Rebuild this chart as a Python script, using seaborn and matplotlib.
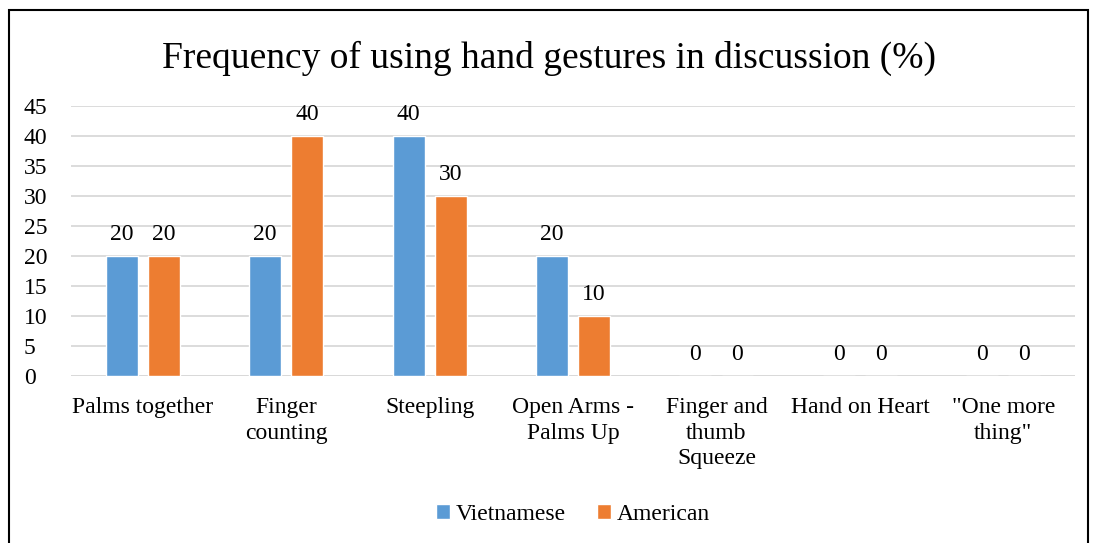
import matplotlib
matplotlib.use("Agg")
import matplotlib.pyplot as plt
import seaborn as sns
import pandas as pd
from matplotlib.patches import Rectangle

categories = ["Palms together", "Finger\ncounting", "Steepling", "Open Arms -\nPalms Up",
              "Finger and\nthumb\nSqueeze", "Hand on Heart", "\"One more\nthing\""]
vietnamese = [20, 20, 40, 20, 0, 0, 0]
american = [20, 40, 30, 10, 0, 0, 0]
series = ["Vietnamese", "American"]
colors = ["#5B9BD5", "#ED7D31"]

df = pd.DataFrame({
    "cat": categories * 2,
    "val": vietnamese + american,
    "series": [series[0]] * len(categories) + [series[1]] * len(categories),
})

sns.set_theme(style="white")
plt.rcParams['font.family'] = ['Liberation Serif', 'DejaVu Serif']
plt.rcParams['text.color'] = 'black'
plt.rcParams['xtick.color'] = 'black'
plt.rcParams['ytick.color'] = 'black'

fig = plt.figure(figsize=(10.97, 5.43), dpi=100)
ax = fig.add_axes([0.0647, 0.3076, 0.9153, 0.4972])

sns.barplot(data=df, x="cat", y="val", hue="series", palette=colors, order=categories,
            hue_order=series, width=0.586, gap=0.24, ax=ax, saturation=1, legend=True)

ax.set_ylim(0, 45)
ax.set_yticks(range(0, 46, 5))
ax.yaxis.grid(True, color="#D9D9D9", linewidth=1.3)
ax.set_axisbelow(True)
for s in ax.spines.values():
    s.set_visible(False)
ax.axhline(0, color="#D9D9D9", linewidth=1.3, zorder=0)
ax.set_xlabel("")
ax.set_ylabel("")
ax.tick_params(axis="y", labelsize=17, length=0, labelcolor="black")
ax.tick_params(axis="x", labelsize=17, length=0, pad=15, labelcolor="black")
for lab in ax.get_yticklabels():
    lab.set_horizontalalignment("left")
ax.yaxis.set_tick_params(pad=34)
for lab in ax.get_xticklabels():
    lab.set_linespacing(1.3)
    lab.set_verticalalignment("top")

for c in ax.containers:
    ax.bar_label(c, fmt="%d", fontsize=17, padding=8, color="black")

leg = ax.legend(loc="upper center", bbox_to_anchor=(0.5, -0.395), ncol=2, frameon=False,
                fontsize=17, handlelength=0.6, handleheight=0.6, handletextpad=0.25,
                columnspacing=1.3)
for t in leg.get_texts():
    t.set_color("black")

fig.suptitle("Frequency of using hand gestures in discussion (%)", fontsize=27,
             y=1 - 41 / 543, va="top", color="black")

fig.patches.append(Rectangle((9 / 1097, -0.05), (1088 - 9) / 1097, 1.05 - 10 / 543,
                             transform=fig.transFigure, fill=False, edgecolor="black",
                             linewidth=1.5))

fig.savefig("out.png", dpi=100)
